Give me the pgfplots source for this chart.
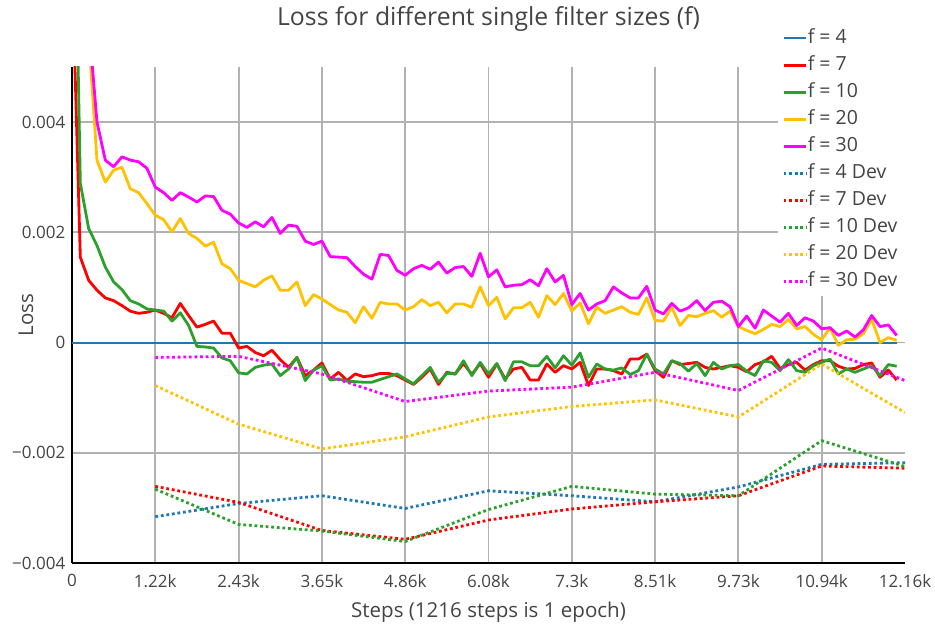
\documentclass[border=0pt]{standalone}
\usepackage{fontspec}
\setmainfont{Open Sans}
\usepackage{pgfplots}
\usepackage{pgfplotstable}
\pgfplotsset{compat=1.18}
\definecolor{txt}{RGB}{68,68,68}
\definecolor{cblue}{RGB}{31,119,180}
\definecolor{cred}{RGB}{255,0,0}
\definecolor{cgreen}{RGB}{44,160,44}
\definecolor{cyellow}{RGB}{255,193,0}
\definecolor{cmag}{RGB}{255,0,255}
\definecolor{gridc}{RGB}{178,178,178}

\pgfplotstableread{
x f7 f10 f20 f30
0 0.0069 0.011 0.012 0.015
121.6 0.00155 0.00289 0.008 0.009
243.2 0.00113 0.00207 0.00557 0.00581
364.8 0.00095 0.00176 0.00331 0.00400
486.4 0.00081 0.00137 0.00291 0.00331
608 0.00076 0.00110 0.00313 0.00319
729.6 0.00067 0.00096 0.00318 0.00337
851.2 0.00057 0.00076 0.00279 0.00331
972.8 0.00053 0.00070 0.00272 0.00328
1094.4 0.00055 0.00061 0.00252 0.00316
1216 0.00059 0.00059 0.00231 0.00282
1337.6 0.00053 0.00057 0.00223 0.00272
1459.2 0.00045 0.00039 0.00201 0.00258
1580.8 0.00071 0.00054 0.00225 0.00272
1702.4 0.00049 0.00031 0.00198 0.00264
1824 0.00028 -0.00007 0.00189 0.00255
1945.6 0.00033 -0.00008 0.00175 0.00266
2067.2 0.00039 -0.00010 0.00182 0.00265
2188.8 0.00017 -0.00028 0.00143 0.00240
2310.4 0.00017 -0.00033 0.00134 0.00233
2432 -0.00010 -0.00055 0.00113 0.00217
2553.6 -0.00007 -0.00057 0.00107 0.00209
2675.2 -0.00018 -0.00045 0.00101 0.00219
2796.8 -0.00024 -0.00041 0.00113 0.00210
2918.4 -0.00014 -0.00039 0.00121 0.00227
3040 -0.00031 -0.00060 0.00095 0.00198
3161.6 -0.00045 -0.00048 0.00095 0.00213
3283.2 -0.00027 -0.00027 0.00110 0.00211
3404.8 -0.00060 -0.00069 0.00067 0.00184
3526.4 -0.00050 -0.00050 0.00087 0.00178
3648 -0.00037 -0.00042 0.00079 0.00184
3769.6 -0.00066 -0.00068 0.00069 0.00156
3891.2 -0.00054 -0.00066 0.00059 0.00155
4012.8 -0.00069 -0.00070 0.00055 0.00154
4134.4 -0.00057 -0.00071 0.00036 0.00138
4256 -0.00062 -0.00072 0.00065 0.00124
4377.6 -0.00060 -0.00072 0.00044 0.00115
4499.2 -0.00056 -0.00067 0.00073 0.00160
4620.8 -0.00056 -0.00062 0.00070 0.00158
4742.4 -0.00060 -0.00057 0.00070 0.00131
4864 -0.00068 -0.00066 0.00059 0.00122
4985.6 -0.00076 -0.00075 0.00065 0.00134
5107.2 -0.00063 -0.00060 0.00078 0.00140
5228.8 -0.00048 -0.00045 0.00067 0.00133
5350.4 -0.00076 -0.00072 0.00073 0.00146
5472 -0.00054 -0.00056 0.00054 0.00126
5593.6 -0.00057 -0.00057 0.00070 0.00136
5715.2 -0.00038 -0.00033 0.00070 0.00138
5836.8 -0.00058 -0.00060 0.00064 0.00120
5958.4 -0.00038 -0.00036 0.00101 0.00162
6080 -0.00063 -0.00057 0.00067 0.00119
6201.6 -0.00039 -0.00038 0.00082 0.00132
6323.2 -0.00066 -0.00069 0.00043 0.00101
6444.8 -0.00048 -0.00035 0.00063 0.00104
6566.4 -0.00045 -0.00035 0.00063 0.00105
6688 -0.00068 -0.00042 0.00073 0.00114
6809.6 -0.00068 -0.00042 0.00046 0.00103
6931.2 -0.00039 -0.00025 0.00085 0.00134
7052.8 -0.00054 -0.00046 0.00069 0.00110
7174.4 -0.00042 -0.00024 0.00089 0.00122
7296 -0.00048 -0.00041 0.00057 0.00069
7417.6 -0.00036 -0.00019 0.00072 0.00089
7539.2 -0.00078 -0.00063 0.00034 0.00059
7660.8 -0.00048 -0.00039 0.00064 0.00070
7782.4 -0.00048 -0.00048 0.00053 0.00076
7904 -0.00051 -0.00050 0.00059 0.00101
8025.6 -0.00057 -0.00046 0.00065 0.00090
8147.2 -0.00030 -0.00058 0.00055 0.00081
8268.8 -0.00030 -0.00051 0.00051 0.00081
8390.4 -0.00021 -0.00021 0.00081 0.00102
8512 -0.00051 -0.00048 0.00040 0.00059
8633.6 -0.00063 -0.00057 0.00039 0.00052
8755.2 -0.00033 -0.00033 0.00064 0.00071
8876.8 -0.00040 -0.00038 0.00031 0.00057
8998.4 -0.00038 -0.00052 0.00049 0.00063
9120 -0.00036 -0.00038 0.00047 0.00076
9241.6 -0.00045 -0.00060 0.00053 0.00058
9363.2 -0.00048 -0.00036 0.00058 0.00073
9484.8 -0.00045 -0.00048 0.00046 0.00075
9606.4 -0.00042 -0.00042 0.00057 0.00065
9728 -0.00045 -0.00040 0.00029 0.00029
9849.6 -0.00053 -0.00052 0.00022 0.00048
9971.2 -0.00040 -0.00060 0.00016 0.00026
10092.8 -0.00035 -0.00033 0.00024 0.00059
10214.4 -0.00025 -0.00036 0.00033 0.00048
10336 -0.00047 -0.00051 0.00029 0.00037
10457.6 -0.00040 -0.00031 0.00042 0.00053
10579.2 -0.00036 -0.00051 0.00025 0.00031
10700.8 -0.00050 -0.00054 0.00029 0.00045
10822.4 -0.00040 -0.00042 0.00015 0.00039
10944 -0.00033 -0.00036 0.00005 0.00025
11065.6 -0.00033 -0.00030 0.00027 0.00027
11187.2 -0.00043 -0.00057 -0.00005 0.00013
11308.8 -0.00048 -0.00048 0.00005 0.00021
11430.4 -0.00047 -0.00054 0.00006 0.00010
11552 -0.00040 -0.00048 0.00016 0.00023
11673.6 -0.00037 -0.00042 0.00042 0.00049
11795.2 -0.00063 -0.00060 0.00000 0.00029
11916.8 -0.00050 -0.00040 0.00009 0.00032
12038.4 -0.00068 -0.00043 0.00004 0.00013
}\train

\pgfplotstableread{
x f4 f7 f10 f20 f30
1216 -0.00316 -0.00261 -0.00266 -0.00078 -0.00027
2432 -0.00292 -0.00290 -0.00330 -0.00148 -0.00025
3648 -0.00278 -0.00341 -0.00342 -0.00193 -0.00057
4864 -0.00301 -0.00357 -0.00361 -0.00171 -0.00107
6080 -0.00269 -0.00322 -0.00303 -0.00135 -0.00088
7296 -0.00278 -0.00302 -0.00261 -0.00116 -0.00081
8512 -0.00289 -0.00289 -0.00275 -0.00104 -0.00054
9728 -0.00262 -0.00278 -0.00278 -0.00135 -0.00087
10944 -0.00221 -0.00224 -0.00178 -0.00039 -0.00010
12160 -0.00218 -0.00228 -0.00225 -0.00127 -0.00069
}\dev

\begin{document}
\begin{tikzpicture}
\useasboundingbox (-54pt,-51pt) rectangle (647.25pt,422.25pt);
\begin{axis}[
  at={(0,0)}, anchor=south west,
  scale only axis, width=624.75pt, height=372pt,
  xmin=0, xmax=12160, ymin=-0.004, ymax=0.005,
  axis x line*=bottom, axis y line*=left,
  axis line style={black, line width=1.5pt},
  xtick={0,1216,2432,3648,4864,6080,7296,8512,9728,10944},
  xticklabels={0,1.22k,2.43k,3.65k,4.86k,6.08k,7.3k,8.51k,9.73k,10.94k},
  extra x ticks={12160}, extra x tick labels={12.16k},
  extra x tick style={grid=none},
  ytick={-0.004,-0.002,0,0.002,0.004},
  yticklabels={−0.004,−0.002,0,0.002,0.004},
  scaled y ticks=false, scaled x ticks=false,
  major tick length=0pt,
  grid=major,
  major grid style={gridc, line width=1.4pt},
  tick label style={font=\fontsize{12.75}{15}\selectfont, text=txt},
  xticklabel style={anchor=north, yshift=-5pt},
  yticklabel style={anchor=east, xshift=-1.5pt},
  title={Loss for different single filter sizes (f)},
  title style={at={(axis description cs:0.5,1.0968)}, anchor=center, yshift=-6pt, font=\fontsize{18.6}{22}\selectfont, text=txt},
  xlabel={Steps (1216 steps is 1 epoch)},
  xlabel style={at={(axis description cs:0.5,-0.1)}, anchor=center, font=\fontsize{15.4}{18}\selectfont, text=txt},
  ylabel={Loss},
  ylabel style={at={(axis description cs:-0.0552,0.5)}, anchor=center, font=\fontsize{15.4}{18}\selectfont, text=txt},
  legend cell align=left,
  legend style={at={(axis description cs:0.8475,1.0881)}, anchor=north west,
    draw=none, fill=white, font=\fontsize{14.6}{17}\selectfont, text=txt,
    inner xsep=3pt, inner ysep=5pt, row sep=8.25pt,
    nodes={inner sep=0pt, text height=10pt, text depth=2pt},
    /tikz/every even column/.append style={column sep=3.75pt}},
  every axis plot/.append style={line join=round},
]
\addplot[cblue, line width=1.5pt] coordinates {(0,0) (12038.4,0)};
\addlegendentry{f = 4}
\addplot[cred, line width=2.1pt] table[x=x, y=f7] {\train};
\addlegendentry{f = 7}
\addplot[cgreen, line width=2.1pt] table[x=x, y=f10] {\train};
\addlegendentry{f = 10}
\addplot[cyellow, line width=2.1pt] table[x=x, y=f20] {\train};
\addlegendentry{f = 20}
\addplot[cmag, line width=2.1pt] table[x=x, y=f30] {\train};
\addlegendentry{f = 30}
\addplot[cblue, line width=2.1pt, dash pattern=on 2.1pt off 2.1pt] table[x=x, y=f4] {\dev};
\addlegendentry{f = 4 Dev}
\addplot[cred, line width=2.1pt, dash pattern=on 2.1pt off 2.1pt] table[x=x, y=f7] {\dev};
\addlegendentry{f = 7 Dev}
\addplot[cgreen, line width=2.1pt, dash pattern=on 2.1pt off 2.1pt] table[x=x, y=f10] {\dev};
\addlegendentry{f = 10 Dev\hspace*{9pt}}
\addplot[cyellow, line width=2.1pt, dash pattern=on 2.1pt off 2.1pt] table[x=x, y=f20] {\dev};
\addlegendentry{f = 20 Dev}
\addplot[cmag, line width=2.1pt, dash pattern=on 2.1pt off 2.1pt] table[x=x, y=f30] {\dev};
\addlegendentry{f = 30 Dev}
\end{axis}
\end{tikzpicture}
\end{document}
